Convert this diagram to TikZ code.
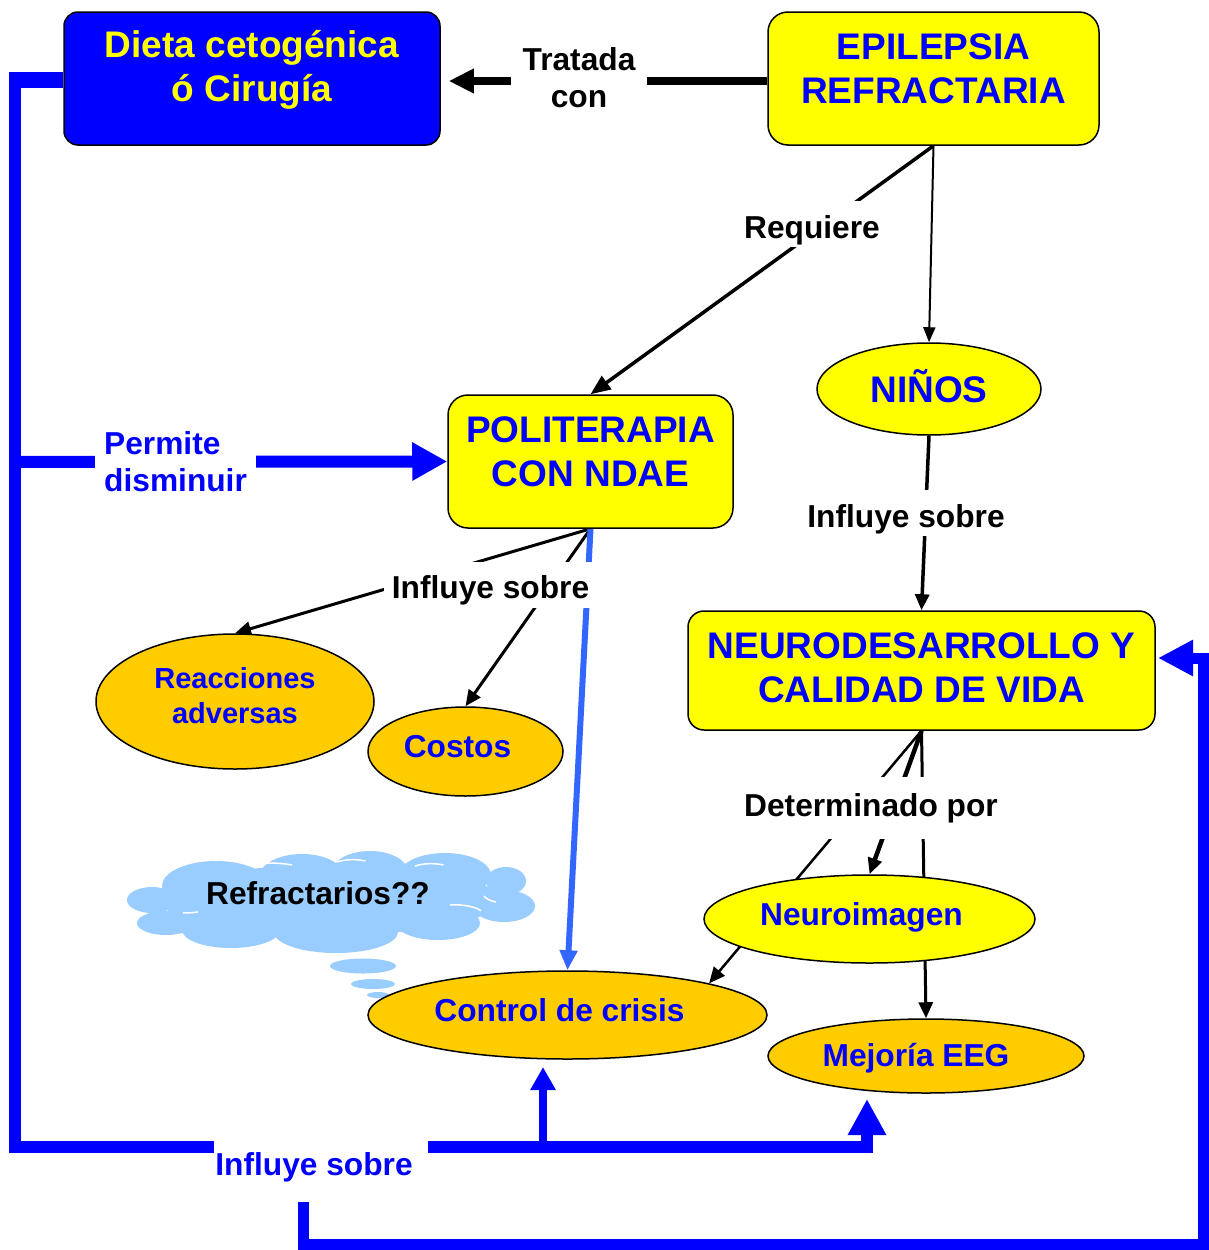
\documentclass[tikz,border=0pt]{standalone}
\usepackage{fontspec}
\setmainfont{Liberation Sans}
\usetikzlibrary{arrows.meta,shapes.geometric}
\pgfdeclarelayer{bg}
\pgfsetlayers{bg,main}
\definecolor{myyellow}{RGB}{255,255,0}
\definecolor{myorange}{RGB}{255,204,0}
\definecolor{myblue}{RGB}{0,0,255}
\definecolor{lblue}{RGB}{51,102,255}
\definecolor{cloudblue}{RGB}{153,204,255}
\tikzset{
  bigf/.style={font=\fontsize{37}{44}\selectfont\bfseries},
  medf/.style={font=\fontsize{31.7}{37}\selectfont\bfseries},
  rbox/.style={draw=black, line width=1.5pt, inner sep=0pt},
  oval/.style={ellipse, draw=black, line width=1.5pt, inner sep=0pt, medf, text=myblue},
  lbl/.style={fill=white, medf, text=black, inner xsep=6pt},
  lblA/.style={lbl, text height=30pt, text depth=2pt, inner ysep=7pt},
  conn/.style={draw=black, -{Triangle[length=16pt,width=14pt]}},
  thickblue/.style={draw=myblue, line width=12pt, line join=miter},
}
\begin{document}
\begin{tikzpicture}[x=1pt,y=-1pt]
\useasboundingbox (0,0) rectangle (1208,1250);
% ---------- boxes
\node[rbox, fill=myblue, rounded corners=14pt, minimum width=376, minimum height=133,
  label={[bigf, text=myyellow, align=center, yshift=9pt]center:Dieta cetogénica\\ó Cirugía}] (dieta) at (252,78.5) {};
\node[rbox, fill=myyellow, rounded corners=20pt, minimum width=331, minimum height=133,
  label={[bigf, text=myblue, align=center, yshift=9.5pt]center:EPILEPSIA\\REFRACTARIA}] (epi) at (933.5,78.5) {};
\node[rbox, fill=myyellow, rounded corners=20pt, minimum width=285, minimum height=133,
  label={[bigf, text=myblue, align=center, yshift=9.5pt]center:POLITERAPIA\\CON NDAE}] (poli) at (590.5,461.5) {};
\node[rbox, fill=myyellow, rounded corners=16pt, minimum width=467, minimum height=119,
  label={[bigf, text=myblue, align=center, yshift=2.5pt]center:NEURODESARROLLO Y\\CALIDAD DE VIDA}] (neuro) at (921.5,670.5) {};
% ---------- ovals
\node[oval, fill=myyellow, minimum width=224, minimum height=92, bigf, text height=26pt, text depth=0pt] (ninos) at (929,389) {NIÑOS};
\node[oval, fill=myorange, minimum width=278, minimum height=135,
  label={[font=\fontsize{29}{35}\selectfont\bfseries, text=myblue, align=center, yshift=6pt]center:Reacciones\\adversas}] (reac) at (235,701.5) {};
\node[oval, fill=myorange, minimum width=195, minimum height=89, text height=23pt, text depth=11pt] (costos) at (465.5,751.5) {\hspace*{-16pt}Costos};
% cloud (drawn directly)
\begin{scope}[fill=cloudblue]
\fill (330,900) ellipse [x radius=170pt, y radius=35pt];
\fill (152,900) ellipse [x radius=25pt, y radius=13pt];
\fill (216,886) ellipse [x radius=54pt, y radius=25pt];
\fill (302,876) ellipse [x radius=42pt, y radius=22pt];
\fill (370,872) ellipse [x radius=38pt, y radius=21pt];
\fill (445,875) ellipse [x radius=46pt, y radius=22pt];
\fill (506,881) ellipse [x radius=20pt, y radius=14pt];
\fill (504,906) ellipse [x radius=31pt, y radius=16pt];
\fill (438,923) ellipse [x radius=42pt, y radius=17pt];
\fill (336,932) ellipse [x radius=62pt, y radius=21pt];
\fill (231,930) ellipse [x radius=49pt, y radius=18pt];
\fill (166,923) ellipse [x radius=29pt, y radius=12pt];
\fill (363,966) ellipse [x radius=33pt, y radius=7.5pt];
\fill (373,984) ellipse [x radius=22pt, y radius=5pt];
\fill (378,995) ellipse [x radius=11pt, y radius=3pt];
\end{scope}
\begin{scope}[white, line width=1.5pt]
\draw (137,883) arc [start angle=160, end angle=100, x radius=30pt, y radius=12pt];
\draw (252,865) arc [start angle=120, end angle=60, x radius=40pt, y radius=14pt];
\draw (337,862) arc [start angle=130, end angle=60, x radius=25pt, y radius=10pt];
\draw (415,866) arc [start angle=130, end angle=60, x radius=25pt, y radius=10pt];
\draw (484,896) arc [start angle=200, end angle=250, x radius=20pt, y radius=10pt];
\draw (450,905) arc [start angle=100, end angle=30, x radius=30pt, y radius=12pt];
\draw (183,913) arc [start angle=270, end angle=300, x radius=30pt, y radius=8pt];
\draw (272,944) arc [start angle=200, end angle=250, x radius=20pt, y radius=10pt];
\end{scope}
\node[medf, text=black, inner sep=0pt] (cloud) at (318,893) {Refractarios??};
\node[oval, fill=myyellow, minimum width=331, minimum height=88, text height=23pt, text depth=11pt] (neuroim) at (869.5,919) {\hspace*{-16pt}Neuroimagen};
\node[oval, fill=myorange, minimum width=399, minimum height=88, text height=23pt, text depth=11pt] (control) at (567.5,1015) {\hspace*{-16pt}Control de crisis};
\node[oval, fill=myorange, minimum width=316, minimum height=74, text height=23pt, text depth=3pt] (mejoria) at (926,1056) {\hspace*{-20pt}Mejoría EEG};
% ---------- labels
\node[lbl, align=center, inner xsep=11.5pt] (tratada) at (579,78) {Tratada\\con};
\node[lblA, inner xsep=4pt] (req) at (812,224) {Requiere};
\node[lblA, inner xsep=4pt] (infl1) at (906,513) {Influye sobre};
\node[lblA, inner xsep=8pt] (infl2) at (490.5,584.5) {Influye sobre};
\node[lbl, inner ysep=16pt] (det) at (871,808) {Determinado por};
\node[lbl, text=myblue, align=left, anchor=west, inner xsep=9pt, inner ysep=6pt] (perm) at (95,462) {Permite\\disminuir};
\node[lbl, text=myblue, inner xsep=15pt, inner ysep=20pt] (infl3) at (321,1167) {\hspace*{-14pt}Influye sobre};
% ---------- coordinates
\coordinate (ty) at (0,81);
\coordinate (c0) at (15,80);
\coordinate (c1) at (15,78.5);
\coordinate (c2) at (15,1147);
\coordinate (c3) at (867,1147);
\coordinate (mtip) at (867,1099);
\coordinate (pj) at (15,462);
\coordinate (cb) at (543,1141);
\coordinate (ctip) at (543,1067);
\coordinate (b1) at (303,1200);
\coordinate (b2) at (303,1244);
\coordinate (b3) at (1203,1244);
\coordinate (b4) at (1203,658);
\coordinate (ntip) at (1158,658);
% ---------- connectors
\begin{pgfonlayer}{bg}
\fill[white] (0,0) rectangle (1208,1250);
\draw[line width=8pt, -{Triangle[length=25pt,width=23pt]}, shorten >=8pt] (epi.west |- ty) -- (dieta.east |- ty);
\draw[line width=3.5pt, -{Triangle[length=20pt,width=16pt]}] (epi.south) -- (poli.north);
\draw[line width=2pt, -{Triangle[length=15pt,width=12pt]}] (epi.south) -- (ninos.north);
\draw[line width=3.5pt, conn] (ninos.south) -- (neuro.north);
\draw[line width=3pt, conn] (poli.south) -- (reac.north);
\draw[line width=3pt, conn] (poli.south) -- (costos.north);
\draw[lblue, line width=6pt, -{Triangle[length=20pt,width=17pt]}] (poli.south) -- (control.north);
\draw[line width=2.5pt, conn] (neuro.south) -- (control.north east);
\draw[line width=4.5pt, conn] (neuro.south) -- (neuroim.north);
\draw[line width=3pt, conn] (neuro.south) -- (mejoria.north);
\draw[thickblue, -{Triangle[length=36pt,width=36pt]}] (dieta.west) -- (c1) -- (c2) -- (c3) -- (mtip);
\draw[myblue, line width=16pt] (dieta.west |- c0) -- ([xshift=-6pt]c0);
\draw[thickblue, -{Triangle[length=35pt,width=36pt]}] (pj) -- (poli.west);
\draw[myblue, line width=8pt, -{Triangle[length=23pt,width=24pt]}] (cb) -- (ctip);
\draw[thickblue, line width=11pt, -{Triangle[length=35pt,width=34pt]}] (b1) -- (b2) -- (b3) -- (b4) -- (ntip);
\end{pgfonlayer}
\end{tikzpicture}
\end{document}
